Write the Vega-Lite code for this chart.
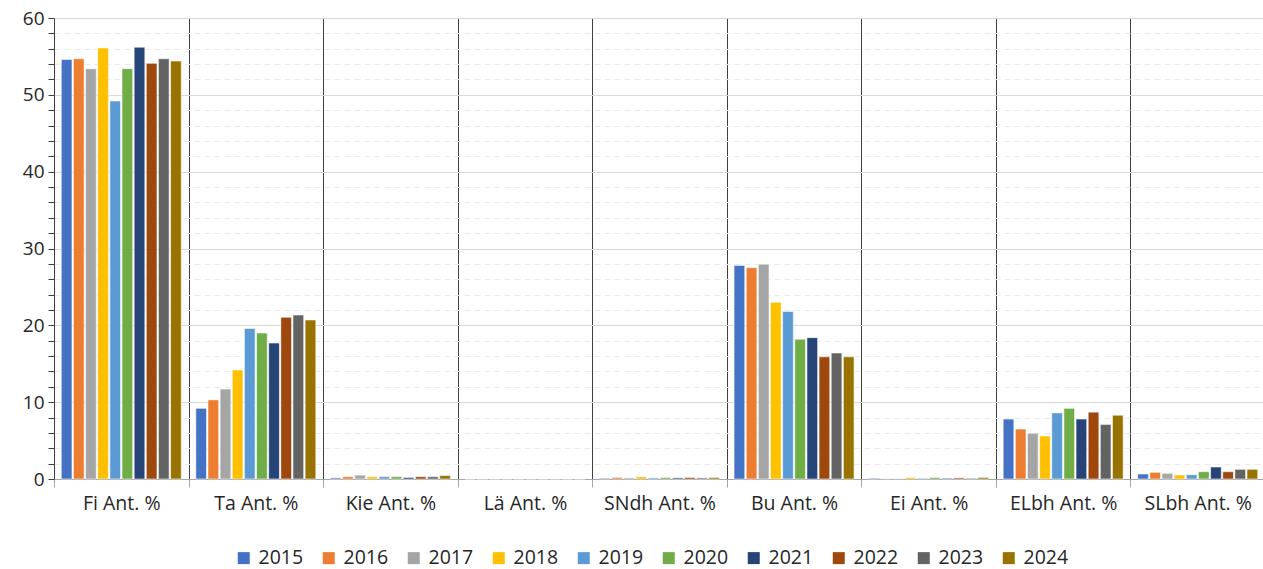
{
 "$schema": "https://vega.github.io/schema/vega-lite/v6.json",
 "width": 1211, "height": 461,
 "autosize": "none",
 "padding": {"left": 54, "top": 18, "right": 0, "bottom": 90},
 "background": "white",
 "config": {"font": "Open Sans", "view": {"stroke": null}},
 "data": {"values": [
  {"cat":"Fi Ant. %","year":"2015","value":54.6},{"cat":"Fi Ant. %","year":"2016","value":54.7},{"cat":"Fi Ant. %","year":"2017","value":53.4},{"cat":"Fi Ant. %","year":"2018","value":56.1},{"cat":"Fi Ant. %","year":"2019","value":49.2},{"cat":"Fi Ant. %","year":"2020","value":53.4},{"cat":"Fi Ant. %","year":"2021","value":56.2},{"cat":"Fi Ant. %","year":"2022","value":54.1},{"cat":"Fi Ant. %","year":"2023","value":54.7},{"cat":"Fi Ant. %","year":"2024","value":54.4},
  {"cat":"Ta Ant. %","year":"2015","value":9.2},{"cat":"Ta Ant. %","year":"2016","value":10.3},{"cat":"Ta Ant. %","year":"2017","value":11.7},{"cat":"Ta Ant. %","year":"2018","value":14.2},{"cat":"Ta Ant. %","year":"2019","value":19.6},{"cat":"Ta Ant. %","year":"2020","value":19.0},{"cat":"Ta Ant. %","year":"2021","value":17.7},{"cat":"Ta Ant. %","year":"2022","value":21.05},{"cat":"Ta Ant. %","year":"2023","value":21.35},{"cat":"Ta Ant. %","year":"2024","value":20.7},
  {"cat":"Kie Ant. %","year":"2015","value":0.15},{"cat":"Kie Ant. %","year":"2016","value":0.3},{"cat":"Kie Ant. %","year":"2017","value":0.5},{"cat":"Kie Ant. %","year":"2018","value":0.3},{"cat":"Kie Ant. %","year":"2019","value":0.3},{"cat":"Kie Ant. %","year":"2020","value":0.3},{"cat":"Kie Ant. %","year":"2021","value":0.2},{"cat":"Kie Ant. %","year":"2022","value":0.3},{"cat":"Kie Ant. %","year":"2023","value":0.3},{"cat":"Kie Ant. %","year":"2024","value":0.45},
  {"cat":"Lä Ant. %","year":"2015","value":0},{"cat":"Lä Ant. %","year":"2016","value":0},{"cat":"Lä Ant. %","year":"2017","value":0},{"cat":"Lä Ant. %","year":"2018","value":0},{"cat":"Lä Ant. %","year":"2019","value":0},{"cat":"Lä Ant. %","year":"2020","value":0},{"cat":"Lä Ant. %","year":"2021","value":0},{"cat":"Lä Ant. %","year":"2022","value":0},{"cat":"Lä Ant. %","year":"2023","value":0},{"cat":"Lä Ant. %","year":"2024","value":0},
  {"cat":"SNdh Ant. %","year":"2015","value":0.1},{"cat":"SNdh Ant. %","year":"2016","value":0.2},{"cat":"SNdh Ant. %","year":"2017","value":0.15},{"cat":"SNdh Ant. %","year":"2018","value":0.3},{"cat":"SNdh Ant. %","year":"2019","value":0.15},{"cat":"SNdh Ant. %","year":"2020","value":0.2},{"cat":"SNdh Ant. %","year":"2021","value":0.15},{"cat":"SNdh Ant. %","year":"2022","value":0.2},{"cat":"SNdh Ant. %","year":"2023","value":0.15},{"cat":"SNdh Ant. %","year":"2024","value":0.2},
  {"cat":"Bu Ant. %","year":"2015","value":27.8},{"cat":"Bu Ant. %","year":"2016","value":27.5},{"cat":"Bu Ant. %","year":"2017","value":27.95},{"cat":"Bu Ant. %","year":"2018","value":23.0},{"cat":"Bu Ant. %","year":"2019","value":21.8},{"cat":"Bu Ant. %","year":"2020","value":18.2},{"cat":"Bu Ant. %","year":"2021","value":18.4},{"cat":"Bu Ant. %","year":"2022","value":15.9},{"cat":"Bu Ant. %","year":"2023","value":16.4},{"cat":"Bu Ant. %","year":"2024","value":15.9},
  {"cat":"Ei Ant. %","year":"2015","value":0.1},{"cat":"Ei Ant. %","year":"2016","value":0.05},{"cat":"Ei Ant. %","year":"2017","value":0.05},{"cat":"Ei Ant. %","year":"2018","value":0.2},{"cat":"Ei Ant. %","year":"2019","value":0.1},{"cat":"Ei Ant. %","year":"2020","value":0.2},{"cat":"Ei Ant. %","year":"2021","value":0.1},{"cat":"Ei Ant. %","year":"2022","value":0.15},{"cat":"Ei Ant. %","year":"2023","value":0.1},{"cat":"Ei Ant. %","year":"2024","value":0.2},
  {"cat":"ELbh Ant. %","year":"2015","value":7.8},{"cat":"ELbh Ant. %","year":"2016","value":6.5},{"cat":"ELbh Ant. %","year":"2017","value":5.95},{"cat":"ELbh Ant. %","year":"2018","value":5.6},{"cat":"ELbh Ant. %","year":"2019","value":8.6},{"cat":"ELbh Ant. %","year":"2020","value":9.2},{"cat":"ELbh Ant. %","year":"2021","value":7.8},{"cat":"ELbh Ant. %","year":"2022","value":8.7},{"cat":"ELbh Ant. %","year":"2023","value":7.1},{"cat":"ELbh Ant. %","year":"2024","value":8.3},
  {"cat":"SLbh Ant. %","year":"2015","value":0.65},{"cat":"SLbh Ant. %","year":"2016","value":0.87},{"cat":"SLbh Ant. %","year":"2017","value":0.74},{"cat":"SLbh Ant. %","year":"2018","value":0.52},{"cat":"SLbh Ant. %","year":"2019","value":0.56},{"cat":"SLbh Ant. %","year":"2020","value":0.95},{"cat":"SLbh Ant. %","year":"2021","value":1.56},{"cat":"SLbh Ant. %","year":"2022","value":0.95},{"cat":"SLbh Ant. %","year":"2023","value":1.26},{"cat":"SLbh Ant. %","year":"2024","value":1.26}
 ]},
 "mark": {"type": "bar", "stroke": "white", "strokeWidth": 0.8, "strokeOpacity": 0.7},
 "encoding": {
  "x": {"field": "cat", "type": "nominal", "sort": null, "title": null,
   "scale": {"paddingInner": 0, "paddingOuter": 0},
   "axis": {"tickBand": "extent", "grid": true, "gridColor": "#404040", "gridWidth": 1, "labelAngle": 0, "labelFontSize": 19.5, "labelColor": "#262626", "labelPadding": 7, "tickSize": 8, "tickColor": "#a6a6a6", "domainColor": "#a6a6a6"}},
  "xOffset": {"field": "year", "type": "nominal", "scale": {"paddingOuter": 0.6, "paddingInner": 0.12}},
  "y": {"field": "value", "type": "quantitative", "title": null, "scale": {"domain": [0, 60], "nice": false},
   "axis": {"values": [0,2,4,6,8,10,12,14,16,18,20,22,24,26,28,30,32,34,36,38,40,42,44,46,48,50,52,54,56,58,60],
    "labelExpr": "datum.value % 10 === 0 ? datum.label : ''",
    "gridDash": {"condition": {"test": "datum.value % 10 === 0", "value": []}, "value": [6, 4]},
    "gridColor": {"condition": {"test": "datum.value % 10 === 0", "value": "#d9d9d9"}, "value": "#ebebeb"},
    "tickSize": 6, "tickColor": "#404040", "domainColor": "#404040", "labelFontSize": 19, "labelColor": "#262626", "labelPadding": 4}},
  "color": {"field": "year", "type": "nominal",
   "scale": {"domain": ["2015","2016","2017","2018","2019","2020","2021","2022","2023","2024"],
    "range": ["#4472C4","#ED7D31","#A5A5A5","#FFC000","#5B9BD5","#70AD47","#264478","#9E480E","#636363","#997300"]},
   "legend": {"orient": "none", "legendX": 180, "legendY": 530, "direction": "horizontal", "title": null, "symbolType": "square", "symbolSize": 144, "symbolStrokeWidth": 0, "labelFontSize": 19.5, "labelColor": "#262626", "labelOffset": 5, "columnPadding": 15}}
 }
}
